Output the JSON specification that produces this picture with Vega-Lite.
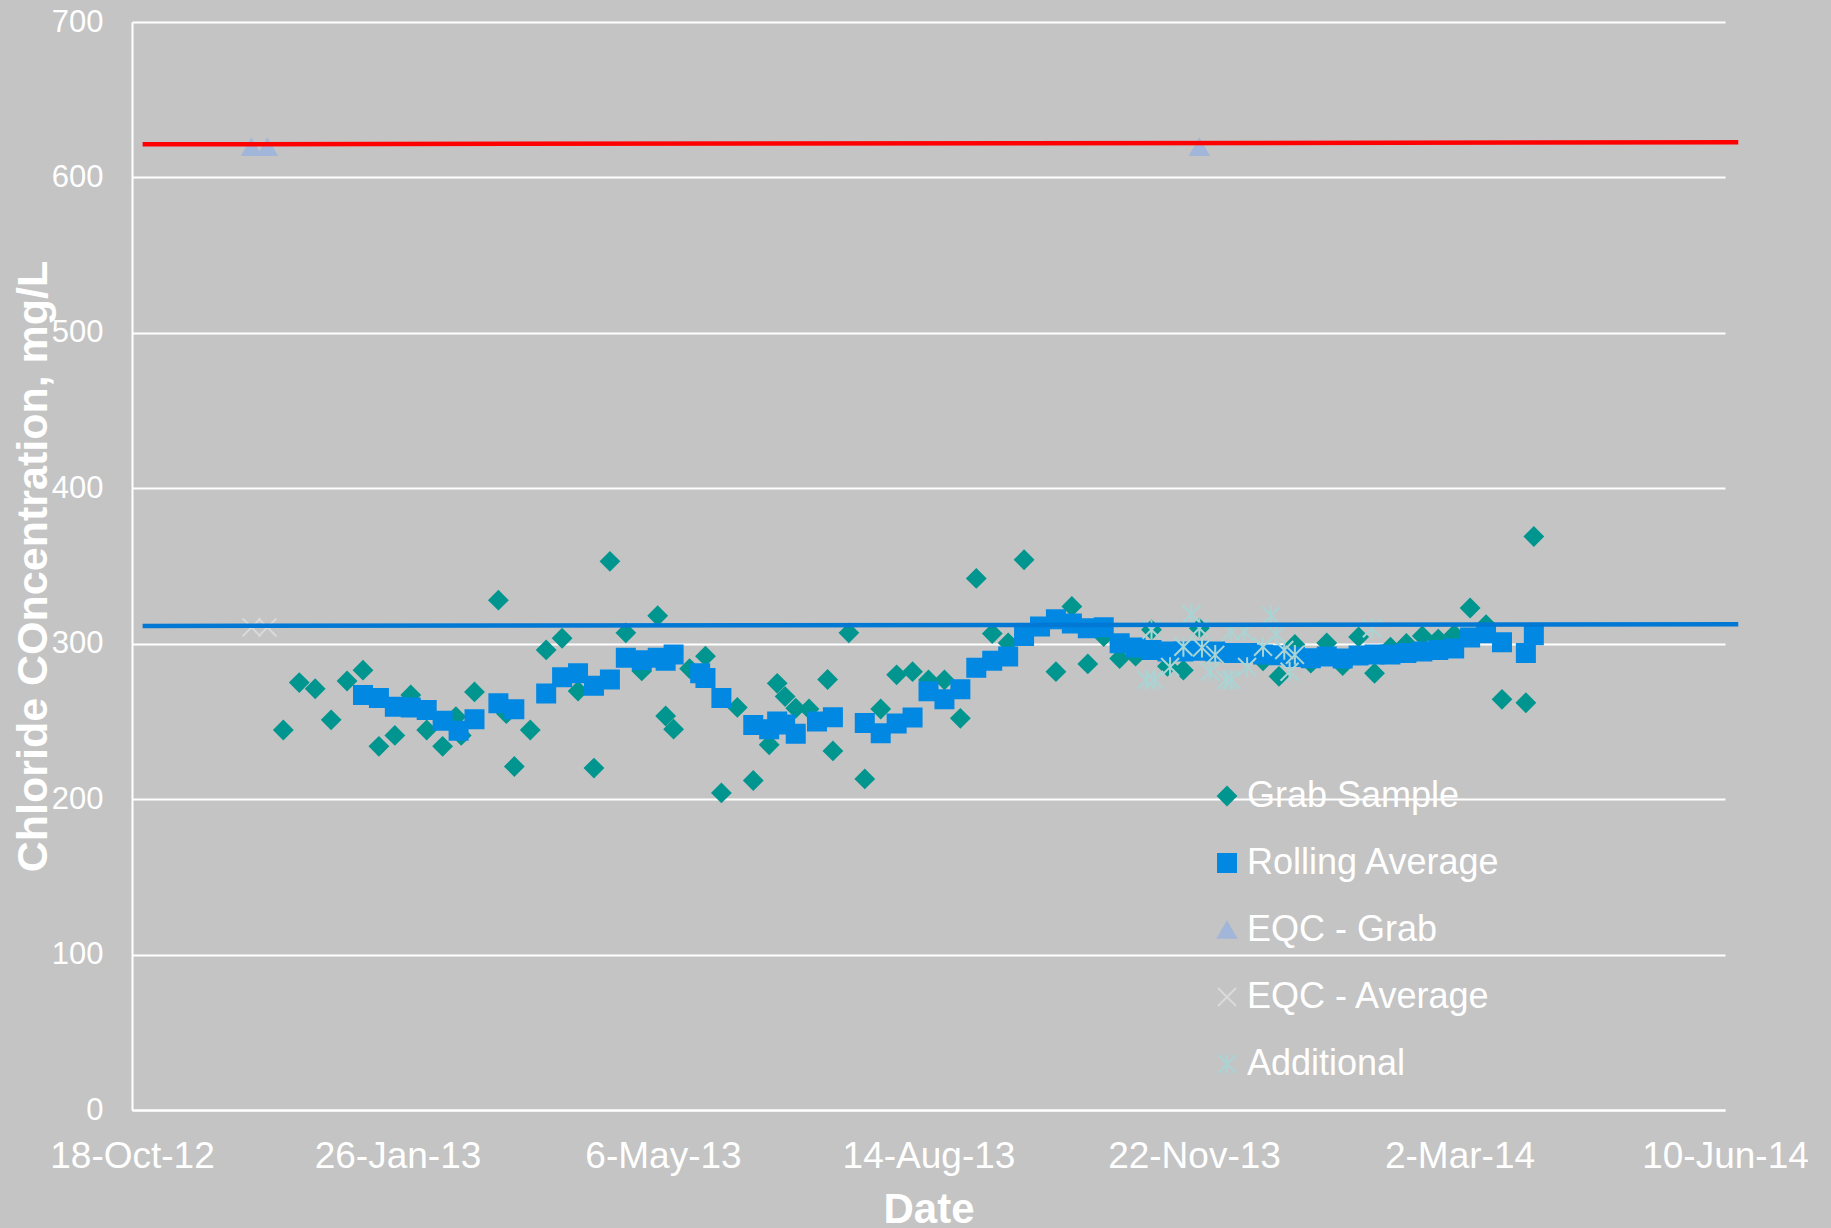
{
  "$schema": "https://vega.github.io/schema/vega-lite/v6.json",
  "width": 1593,
  "height": 1088,
  "autosize": {"type": "none"},
  "padding": {"left": 132, "top": 22, "right": 106, "bottom": 118},
  "background": "#C4C4C4",
  "config": {
    "view": {"stroke": null},
    "font": "Liberation Sans",
    "axis": {"labelFont": "Liberation Sans", "titleFont": "Liberation Sans"},
    "legend": {"labelFont": "Liberation Sans", "labelLimit": 0}
  },
  "datasets": {
    "pts": [
      {"series": "Grab Sample", "date": "2012/12/14", "value": 244.5},
      {"series": "Grab Sample", "date": "2012/12/20", "value": 275},
      {"series": "Grab Sample", "date": "2012/12/26", "value": 271},
      {"series": "Grab Sample", "date": "2013/01/01", "value": 251},
      {"series": "Grab Sample", "date": "2013/01/07", "value": 276},
      {"series": "Grab Sample", "date": "2013/01/13", "value": 283},
      {"series": "Grab Sample", "date": "2013/01/19", "value": 234},
      {"series": "Grab Sample", "date": "2013/01/25", "value": 241},
      {"series": "Grab Sample", "date": "2013/01/31", "value": 267},
      {"series": "Grab Sample", "date": "2013/02/06", "value": 244.5},
      {"series": "Grab Sample", "date": "2013/02/12", "value": 234},
      {"series": "Grab Sample", "date": "2013/02/17", "value": 253},
      {"series": "Grab Sample", "date": "2013/02/19", "value": 241},
      {"series": "Grab Sample", "date": "2013/02/24", "value": 269},
      {"series": "Grab Sample", "date": "2013/03/05", "value": 328},
      {"series": "Grab Sample", "date": "2013/03/08", "value": 255},
      {"series": "Grab Sample", "date": "2013/03/11", "value": 221},
      {"series": "Grab Sample", "date": "2013/03/17", "value": 244.5},
      {"series": "Grab Sample", "date": "2013/03/23", "value": 296},
      {"series": "Grab Sample", "date": "2013/03/29", "value": 303.5},
      {"series": "Grab Sample", "date": "2013/04/04", "value": 269.5},
      {"series": "Grab Sample", "date": "2013/04/10", "value": 220},
      {"series": "Grab Sample", "date": "2013/04/16", "value": 353},
      {"series": "Grab Sample", "date": "2013/04/22", "value": 307},
      {"series": "Grab Sample", "date": "2013/04/28", "value": 282.5},
      {"series": "Grab Sample", "date": "2013/05/04", "value": 318},
      {"series": "Grab Sample", "date": "2013/05/07", "value": 253.5},
      {"series": "Grab Sample", "date": "2013/05/10", "value": 245},
      {"series": "Grab Sample", "date": "2013/05/16", "value": 284},
      {"series": "Grab Sample", "date": "2013/05/22", "value": 292},
      {"series": "Grab Sample", "date": "2013/05/28", "value": 204},
      {"series": "Grab Sample", "date": "2013/06/03", "value": 259},
      {"series": "Grab Sample", "date": "2013/06/09", "value": 212},
      {"series": "Grab Sample", "date": "2013/06/15", "value": 235},
      {"series": "Grab Sample", "date": "2013/06/18", "value": 274.5},
      {"series": "Grab Sample", "date": "2013/06/21", "value": 266},
      {"series": "Grab Sample", "date": "2013/06/25", "value": 258.5},
      {"series": "Grab Sample", "date": "2013/06/30", "value": 258},
      {"series": "Grab Sample", "date": "2013/07/07", "value": 277},
      {"series": "Grab Sample", "date": "2013/07/09", "value": 231},
      {"series": "Grab Sample", "date": "2013/07/15", "value": 307},
      {"series": "Grab Sample", "date": "2013/07/21", "value": 213},
      {"series": "Grab Sample", "date": "2013/07/27", "value": 258},
      {"series": "Grab Sample", "date": "2013/08/02", "value": 280},
      {"series": "Grab Sample", "date": "2013/08/08", "value": 282},
      {"series": "Grab Sample", "date": "2013/08/14", "value": 276.7},
      {"series": "Grab Sample", "date": "2013/08/20", "value": 276.7},
      {"series": "Grab Sample", "date": "2013/08/26", "value": 252},
      {"series": "Grab Sample", "date": "2013/09/01", "value": 342},
      {"series": "Grab Sample", "date": "2013/09/07", "value": 306.5},
      {"series": "Grab Sample", "date": "2013/09/13", "value": 300.5},
      {"series": "Grab Sample", "date": "2013/09/19", "value": 354},
      {"series": "Grab Sample", "date": "2013/10/01", "value": 282},
      {"series": "Grab Sample", "date": "2013/10/07", "value": 324},
      {"series": "Grab Sample", "date": "2013/10/13", "value": 287},
      {"series": "Grab Sample", "date": "2013/10/19", "value": 304.6},
      {"series": "Grab Sample", "date": "2013/10/25", "value": 290.5},
      {"series": "Grab Sample", "date": "2013/10/31", "value": 292},
      {"series": "Grab Sample", "date": "2013/11/06", "value": 309},
      {"series": "Grab Sample", "date": "2013/11/12", "value": 285.5},
      {"series": "Grab Sample", "date": "2013/11/18", "value": 283},
      {"series": "Grab Sample", "date": "2013/11/24", "value": 310},
      {"series": "Grab Sample", "date": "2013/12/18", "value": 289},
      {"series": "Grab Sample", "date": "2013/12/24", "value": 279},
      {"series": "Grab Sample", "date": "2013/12/30", "value": 299.5},
      {"series": "Grab Sample", "date": "2014/01/05", "value": 287.5},
      {"series": "Grab Sample", "date": "2014/01/11", "value": 300.5},
      {"series": "Grab Sample", "date": "2014/01/17", "value": 286},
      {"series": "Grab Sample", "date": "2014/01/23", "value": 304.4},
      {"series": "Grab Sample", "date": "2014/01/29", "value": 281},
      {"series": "Grab Sample", "date": "2014/02/04", "value": 297.8},
      {"series": "Grab Sample", "date": "2014/02/10", "value": 300.2},
      {"series": "Grab Sample", "date": "2014/02/16", "value": 305},
      {"series": "Grab Sample", "date": "2014/02/22", "value": 303},
      {"series": "Grab Sample", "date": "2014/02/28", "value": 306},
      {"series": "Grab Sample", "date": "2014/03/06", "value": 323},
      {"series": "Grab Sample", "date": "2014/03/12", "value": 312.3},
      {"series": "Grab Sample", "date": "2014/03/18", "value": 264.2},
      {"series": "Grab Sample", "date": "2014/03/27", "value": 262},
      {"series": "Grab Sample", "date": "2014/03/30", "value": 369},
      {"series": "Rolling Average", "date": "2013/01/13", "value": 267},
      {"series": "Rolling Average", "date": "2013/01/19", "value": 265},
      {"series": "Rolling Average", "date": "2013/01/25", "value": 259.5},
      {"series": "Rolling Average", "date": "2013/01/31", "value": 259},
      {"series": "Rolling Average", "date": "2013/02/06", "value": 257.4},
      {"series": "Rolling Average", "date": "2013/02/12", "value": 250.5},
      {"series": "Rolling Average", "date": "2013/02/18", "value": 244},
      {"series": "Rolling Average", "date": "2013/02/24", "value": 251.4},
      {"series": "Rolling Average", "date": "2013/03/05", "value": 261.7},
      {"series": "Rolling Average", "date": "2013/03/11", "value": 257.8},
      {"series": "Rolling Average", "date": "2013/03/23", "value": 268},
      {"series": "Rolling Average", "date": "2013/03/29", "value": 278.4},
      {"series": "Rolling Average", "date": "2013/04/04", "value": 281},
      {"series": "Rolling Average", "date": "2013/04/10", "value": 273},
      {"series": "Rolling Average", "date": "2013/04/16", "value": 277},
      {"series": "Rolling Average", "date": "2013/04/22", "value": 291},
      {"series": "Rolling Average", "date": "2013/04/28", "value": 289.4},
      {"series": "Rolling Average", "date": "2013/05/04", "value": 290.9},
      {"series": "Rolling Average", "date": "2013/05/07", "value": 289},
      {"series": "Rolling Average", "date": "2013/05/10", "value": 293},
      {"series": "Rolling Average", "date": "2013/05/20", "value": 281},
      {"series": "Rolling Average", "date": "2013/05/22", "value": 278},
      {"series": "Rolling Average", "date": "2013/05/28", "value": 265},
      {"series": "Rolling Average", "date": "2013/06/09", "value": 247.7},
      {"series": "Rolling Average", "date": "2013/06/15", "value": 245},
      {"series": "Rolling Average", "date": "2013/06/18", "value": 250},
      {"series": "Rolling Average", "date": "2013/06/21", "value": 248},
      {"series": "Rolling Average", "date": "2013/06/25", "value": 242},
      {"series": "Rolling Average", "date": "2013/07/03", "value": 250},
      {"series": "Rolling Average", "date": "2013/07/09", "value": 252.7},
      {"series": "Rolling Average", "date": "2013/07/21", "value": 249},
      {"series": "Rolling Average", "date": "2013/07/27", "value": 242.4},
      {"series": "Rolling Average", "date": "2013/08/02", "value": 248.7},
      {"series": "Rolling Average", "date": "2013/08/08", "value": 252.5},
      {"series": "Rolling Average", "date": "2013/08/14", "value": 269.4},
      {"series": "Rolling Average", "date": "2013/08/20", "value": 264.3},
      {"series": "Rolling Average", "date": "2013/08/26", "value": 270.7},
      {"series": "Rolling Average", "date": "2013/09/01", "value": 284.6},
      {"series": "Rolling Average", "date": "2013/09/07", "value": 289},
      {"series": "Rolling Average", "date": "2013/09/13", "value": 291.7},
      {"series": "Rolling Average", "date": "2013/09/19", "value": 305},
      {"series": "Rolling Average", "date": "2013/09/25", "value": 311},
      {"series": "Rolling Average", "date": "2013/10/01", "value": 315.7},
      {"series": "Rolling Average", "date": "2013/10/07", "value": 313},
      {"series": "Rolling Average", "date": "2013/10/13", "value": 310},
      {"series": "Rolling Average", "date": "2013/10/19", "value": 310.6},
      {"series": "Rolling Average", "date": "2013/10/25", "value": 300.3},
      {"series": "Rolling Average", "date": "2013/10/31", "value": 297.5},
      {"series": "Rolling Average", "date": "2013/11/06", "value": 296},
      {"series": "Rolling Average", "date": "2013/11/12", "value": 295},
      {"series": "Rolling Average", "date": "2013/11/18", "value": 295},
      {"series": "Rolling Average", "date": "2013/11/24", "value": 295.5},
      {"series": "Rolling Average", "date": "2013/11/30", "value": 295},
      {"series": "Rolling Average", "date": "2013/12/06", "value": 294},
      {"series": "Rolling Average", "date": "2013/12/12", "value": 294},
      {"series": "Rolling Average", "date": "2013/12/18", "value": 293},
      {"series": "Rolling Average", "date": "2013/12/24", "value": 292.5},
      {"series": "Rolling Average", "date": "2013/12/30", "value": 291.5},
      {"series": "Rolling Average", "date": "2014/01/05", "value": 290.7},
      {"series": "Rolling Average", "date": "2014/01/11", "value": 291.7},
      {"series": "Rolling Average", "date": "2014/01/17", "value": 290.5},
      {"series": "Rolling Average", "date": "2014/01/23", "value": 292.4},
      {"series": "Rolling Average", "date": "2014/01/29", "value": 293},
      {"series": "Rolling Average", "date": "2014/02/04", "value": 293},
      {"series": "Rolling Average", "date": "2014/02/10", "value": 294},
      {"series": "Rolling Average", "date": "2014/02/16", "value": 295},
      {"series": "Rolling Average", "date": "2014/02/22", "value": 296},
      {"series": "Rolling Average", "date": "2014/02/28", "value": 297},
      {"series": "Rolling Average", "date": "2014/03/06", "value": 304},
      {"series": "Rolling Average", "date": "2014/03/12", "value": 306.7},
      {"series": "Rolling Average", "date": "2014/03/18", "value": 301},
      {"series": "Rolling Average", "date": "2014/03/27", "value": 294},
      {"series": "Rolling Average", "date": "2014/03/30", "value": 305.5},
      {"series": "EQC - Grab", "date": "2012/12/02", "value": 619.5},
      {"series": "EQC - Grab", "date": "2012/12/08", "value": 619.5},
      {"series": "EQC - Grab", "date": "2013/11/24", "value": 619.5},
      {"series": "EQC - Average", "date": "2012/12/02", "value": 310.5},
      {"series": "EQC - Average", "date": "2012/12/08", "value": 310.5},
      {"series": "Additional", "date": "2013/11/04", "value": 276.7},
      {"series": "Additional", "date": "2013/11/06", "value": 309},
      {"series": "Additional", "date": "2013/11/07", "value": 276.7},
      {"series": "Additional", "date": "2013/11/13", "value": 285},
      {"series": "Additional", "date": "2013/11/18", "value": 298},
      {"series": "Additional", "date": "2013/11/21", "value": 319},
      {"series": "Additional", "date": "2013/11/24", "value": 310},
      {"series": "Additional", "date": "2013/11/25", "value": 297.5},
      {"series": "Additional", "date": "2013/11/28", "value": 282},
      {"series": "Additional", "date": "2013/11/30", "value": 292.8},
      {"series": "Additional", "date": "2013/12/04", "value": 276.7},
      {"series": "Additional", "date": "2013/12/06", "value": 276.7},
      {"series": "Additional", "date": "2013/12/06", "value": 307.8},
      {"series": "Additional", "date": "2013/12/11", "value": 307.8},
      {"series": "Additional", "date": "2013/12/12", "value": 285},
      {"series": "Additional", "date": "2013/12/18", "value": 298},
      {"series": "Additional", "date": "2013/12/21", "value": 318},
      {"series": "Additional", "date": "2013/12/23", "value": 306},
      {"series": "Additional", "date": "2013/12/26", "value": 296},
      {"series": "Additional", "date": "2013/12/28", "value": 282},
      {"series": "Additional", "date": "2013/12/30", "value": 292.8},
      {"series": "Additional", "date": "2014/01/28", "value": 310}
    ],
    "limits": [
      {"limit": "grab", "date": "2012/10/22", "value": 621.3},
      {"limit": "grab", "date": "2014/06/15", "value": 622.6},
      {"limit": "average", "date": "2012/10/22", "value": 311.4},
      {"limit": "average", "date": "2014/06/15", "value": 312.6}
    ]
  },
  "layer": [
    {
      "data": {"name": "pts"},
      "mark": {"type": "point", "size": 324, "strokeWidth": 2, "opacity": 1},
      "encoding": {
        "x": {
          "field": "date", "type": "temporal",
          "scale": {"domain": [{"year": 2012, "month": 10, "date": 18}, {"year": 2014, "month": 6, "date": 10}]},
          "axis": {
            "values": [
              {"year": 2012, "month": 10, "date": 18},
              {"year": 2013, "month": 1, "date": 26},
              {"year": 2013, "month": 5, "date": 6},
              {"year": 2013, "month": 8, "date": 14},
              {"year": 2013, "month": 11, "date": 22},
              {"year": 2014, "month": 3, "date": 2},
              {"year": 2014, "month": 6, "date": 10}
            ],
            "format": "%-d-%b-%y",
            "grid": false,
            "ticks": false,
            "tickSize": 0,
            "domainColor": "white",
            "domainWidth": 2,
            "labelColor": "white",
            "labelFontSize": 37,
            "labelBaseline": "alphabetic",
            "labelPadding": 57,
            "labelFlush": false,
            "labelOverlap": false,
            "labelBound": false,
            "title": "Date",
            "titleColor": "white",
            "titleFontSize": 42,
            "titleFontWeight": "bold",
            "titleBaseline": "alphabetic",
            "titleX": 796.5,
            "titleY": 112
          }
        },
        "y": {
          "field": "value", "type": "quantitative",
          "scale": {"domain": [0, 700], "nice": false},
          "axis": {
            "values": [0, 100, 200, 300, 400, 500, 600, 700],
            "grid": true,
            "gridColor": "white",
            "gridWidth": 2,
            "ticks": false,
            "tickSize": 0,
            "domainColor": "white",
            "domainWidth": 2,
            "labelColor": "white",
            "labelFontSize": 31,
            "labelPadding": 29,
            "title": "Chloride COncentration, mg/L",
            "titleColor": "white",
            "titleFontSize": 43,
            "titleFontWeight": "bold",
            "titleAngle": -90,
            "titleAlign": "center",
            "titleBaseline": "alphabetic",
            "titleX": -86,
            "titleY": 544
          }
        },
        "shape": {
          "field": "series", "type": "nominal",
          "scale": {
            "domain": ["Grab Sample", "Rolling Average", "EQC - Grab", "EQC - Average", "Additional"],
            "range": ["diamond", "square", "triangle-up", "M-1,-1L1,1M1,-1L-1,1", "M-1,-1L1,1M1,-1L-1,1M0,-1.1L0,1.1"]
          },
          "legend": {"orient": "none", "legendX": 1077, "legendY": 756, "title": null, "padding": 0, "labelColor": "white", "labelFontSize": 36, "labelLimit": 0, "symbolSize": 324, "symbolStrokeWidth": 2, "rowPadding": 31, "labelOffset": 2, "symbolOpacity": 1}
        },
        "fill": {
          "field": "series", "type": "nominal",
          "scale": {
            "domain": ["Grab Sample", "Rolling Average", "EQC - Grab", "EQC - Average", "Additional"],
            "range": ["#00968F", "#0088E3", "#A2B6D9", "transparent", "transparent"]
          },
          "legend": {"orient": "none", "legendX": 1077, "legendY": 756, "title": null, "padding": 0, "labelColor": "white", "labelFontSize": 36, "labelLimit": 0, "symbolSize": 324, "symbolStrokeWidth": 2, "rowPadding": 31, "labelOffset": 2, "symbolOpacity": 1}
        },
        "stroke": {
          "field": "series", "type": "nominal",
          "scale": {
            "domain": ["Grab Sample", "Rolling Average", "EQC - Grab", "EQC - Average", "Additional"],
            "range": ["#00968F", "#0088E3", "#A2B6D9", "#DADADA", "#AAD4D4"]
          },
          "legend": {"orient": "none", "legendX": 1077, "legendY": 756, "title": null, "padding": 0, "labelColor": "white", "labelFontSize": 36, "labelLimit": 0, "symbolSize": 324, "symbolStrokeWidth": 2, "rowPadding": 31, "labelOffset": 2, "symbolOpacity": 1}
        }
      }
    },
    {
      "data": {"name": "limits"},
      "transform": [{"filter": "datum.limit === 'grab'"}],
      "mark": {"type": "line", "color": "#FF0000", "strokeWidth": 4.5},
      "encoding": {
        "x": {"field": "date", "type": "temporal"},
        "y": {"field": "value", "type": "quantitative"}
      }
    },
    {
      "data": {"name": "limits"},
      "transform": [{"filter": "datum.limit === 'average'"}],
      "mark": {"type": "line", "color": "#0078D4", "strokeWidth": 4.5},
      "encoding": {
        "x": {"field": "date", "type": "temporal"},
        "y": {"field": "value", "type": "quantitative"}
      }
    }
  ]
}
